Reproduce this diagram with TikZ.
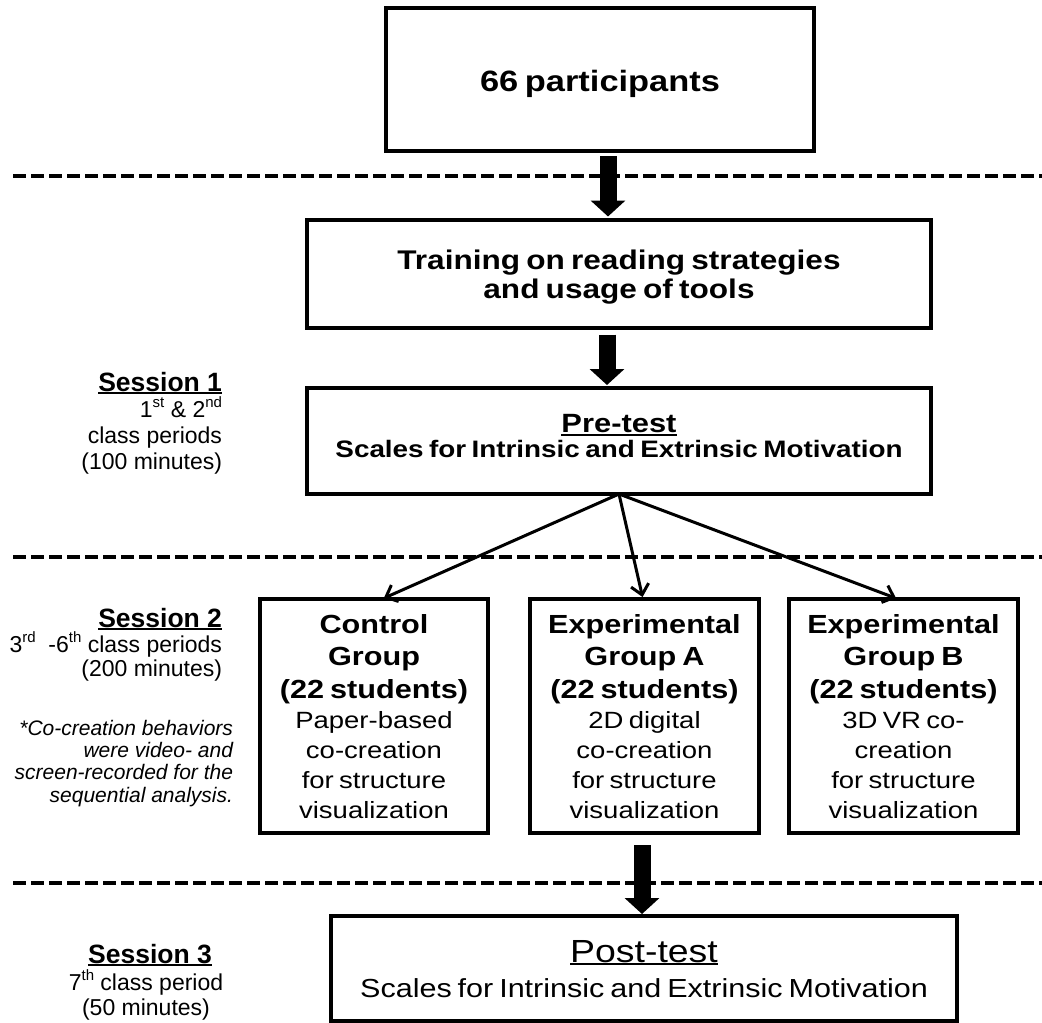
\documentclass[tikz,border=0pt]{standalone}
\usepackage{fontspec}
\setmainfont{Liberation Sans}
\newfontfamily\bx[FakeStretch=1.17,WordSpace=0.7]{Liberation Sans}
\usetikzlibrary{arrows.meta}
\newsavebox\ulbox
\newcommand{\myul}[2][2pt]{\sbox\ulbox{#2}\rlap{\rule[-3pt]{\wd\ulbox}{#1}}\usebox\ulbox}
\newcommand{\sth}[1]{\rule{0pt}{#1pt}}
\newcommand{\std}[1]{\rule[-#1pt]{0pt}{#1pt}}
\newcommand{\sups}[1]{\raisebox{0.4em}{\fontsize{15}{15}\selectfont #1}}
\newcommand{\gbold}[1]{{\bfseries\fontsize{26.2}{30}\selectfont #1}}
\begin{document}
\begin{tikzpicture}[x=1pt,y=-1pt,
  box/.style={draw, line width=4pt, inner sep=0pt, outer sep=0pt, align=center},
  grp/.style={box, minimum width=229pt, minimum height=234pt, font={\bx\fontsize{23.5}{30}\selectfont}},
  fat/.style={line width=17pt, -{Triangle[width=34pt,length=16pt]}},
  thin/.style={line width=3pt, -{Straight Barb[length=10pt,width=18pt]}},
  sepline/.style={line width=4pt, dash pattern=on 13.3pt off 4.7pt},
  lab/.style={inner sep=0pt, outer sep=0pt, align=right},
  head/.style={inner sep=0pt, outer sep=0pt, font={\bfseries\fontsize{26.5}{30}\selectfont}}
]
\useasboundingbox (0,0) rectangle (1042,1023);
\fill[white] (0,0) rectangle (1042,1023);

% session separators
\coordinate (d1a) at (13,176);  \coordinate (d1b) at (1042,176);
\coordinate (d2a) at (13,557);  \coordinate (d2b) at (1042,557);
\coordinate (d3a) at (13,883);  \coordinate (d3b) at (1042,883);
\draw[sepline] (d1a) -- (d1b);
\draw[sepline] (d2a) -- (d2b);
\draw[sepline] (d3a) -- (d3b);

% boxes
\node[box, minimum width=428pt, minimum height=143pt, text height=30pt, text depth=7pt,
  font={\bx\bfseries\fontsize{29.4}{33}\selectfont}] (top) at (600,79.5) {66 participants};

\node[box, minimum width=624pt, minimum height=108pt,
  font={\bx\bfseries\fontsize{27}{29}\selectfont}] (train) at (619,273.5)
  {\sth{26}Training on reading strategies\\and usage of tools\std{6}};

\node[box, minimum width=624pt, minimum height=106pt,
  font={\bx\bfseries\fontsize{23.8}{25}\selectfont}] (pre) at (619,441)
  {\sth{22}{\fontsize{26.4}{25}\selectfont\myul{Pre-test}}\\Scales for Intrinsic and Extrinsic Motivation\std{14}};

\node[grp, minimum width=228pt] (ctrl) at (374,716)
  {\sth{24}\gbold{Control}\\[2pt]\gbold{Group}\\[3pt]\gbold{(22 students)}\\Paper-based\\co-creation\\for structure\\visualization\std{5}};
\node[grp] (ga) at (644.5,716)
  {\sth{24}\gbold{Experimental}\\[2pt]\gbold{Group A}\\[3pt]\gbold{(22 students)}\\2D digital\\co-creation\\for structure\\visualization\std{5}};
\node[grp] (gb) at (903.5,716)
  {\sth{24}\gbold{Experimental}\\[2pt]\gbold{Group B}\\[3pt]\gbold{(22 students)}\\3D VR co-\\creation\\for structure\\visualization\std{5}};

\node[box, minimum width=626pt, minimum height=105pt,
  font={\bx\fontsize{26.1}{35}\selectfont}] (post) at (644,968.5)
  {\sth{26}{\fontsize{32}{35}\selectfont\myul[2.5pt]{Post-test}}\\Scales for Intrinsic and Extrinsic Motivation\std{4}};

% block arrows
\draw[fat, shorten <=5pt, shorten >=3pt] ([xshift=8pt]top.south) -- ([xshift=-11pt]train.north);
\draw[fat, shorten <=7pt, shorten >=3pt] ([xshift=-12pt]train.south) -- ([xshift=-12pt]pre.north);
\draw[fat, shorten <=12pt, shorten >=2pt] ([xshift=-2.5pt]ga.south) -- ([xshift=-2pt]post.north);

% branching arrows
\draw[thin, shorten >=2pt] (pre.south) -- ([xshift=8pt]ctrl.north);
\draw[thin, shorten >=2pt] (pre.south) -- ([xshift=-1.5pt]ga.north);
\draw[thin, shorten >=2pt] (pre.south) -- ([xshift=-5.5pt]gb.north);

% session labels
\node[head, anchor=base east] (s1) at (222,391) {\myul{Session 1}};
\node[lab, anchor=north east, font={\fontsize{23}{26}\selectfont}] (s1d) at (222,397)
  {\sth{20}1\sups{st} \& 2\sups{nd}\\class periods\\(100 minutes)};

\node[head, anchor=base east] (s2) at (222,627) {\myul{Session 2}};
\node[lab, anchor=north east, font={\fontsize{23}{24.5}\selectfont}] (s2d) at (222,632)
  {\sth{20}3\sups{rd}\ \ -6\sups{th} class periods\\(200 minutes)};
\node[lab, anchor=north east, font={\itshape\fontsize{21}{22.4}\selectfont}] (note) at (233,717)
  {\sth{18}*Co-creation behaviors\\were video- and\\screen-recorded for the\\sequential analysis.};

\node[head, anchor=base] (s3) at (150,963) {\myul{Session 3}};
\node[lab, align=center, anchor=north, font={\fontsize{23}{25}\selectfont}] (s3d) at (146,970)
  {\sth{20}7\sups{th} class period\\(50 minutes)};
\end{tikzpicture}
\end{document}
